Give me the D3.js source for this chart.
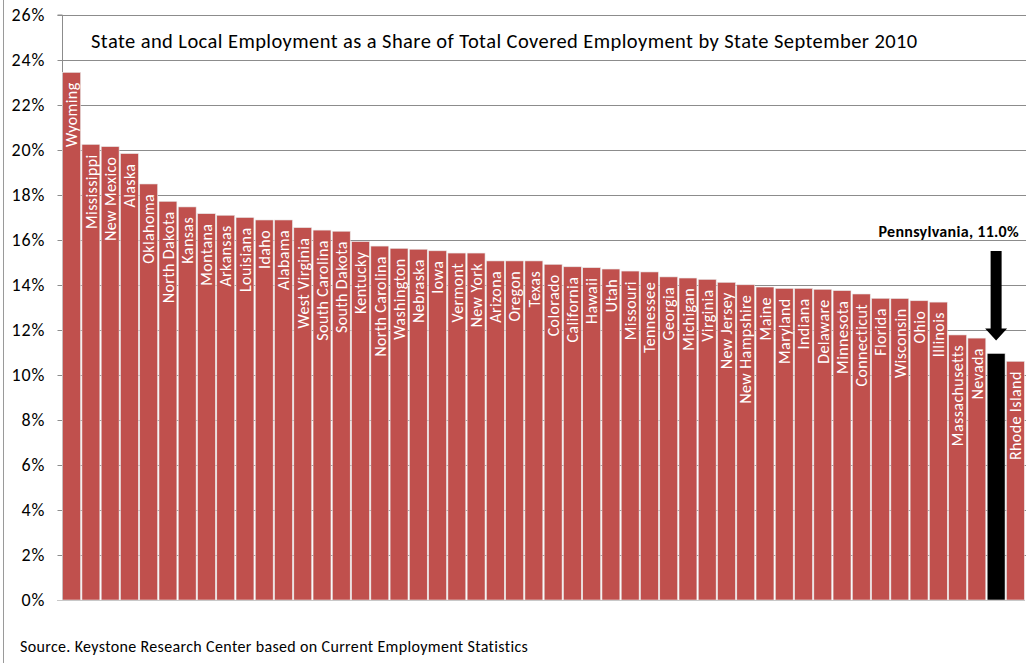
<!DOCTYPE html>
<html>
<head>
<meta charset="utf-8">
<script src="https://cdn.jsdelivr.net/npm/d3@7"></script>
<style>
  html, body { margin: 0; padding: 0; background: #fff; }
  svg { display: block; font-family: Carlito, Lato, "Open Sans", sans-serif; }
</style>
</head>
<body>
<svg id="chart" width="1028" height="663"></svg>
<script>
const states = ["Wyoming","Mississippi","New Mexico","Alaska","Oklahoma","North Dakota","Kansas","Montana","Arkansas","Louisiana","Idaho","Alabama","West Virginia","South Carolina","South Dakota","Kentucky","North Carolina","Washington","Nebraska","Iowa","Vermont","New York","Arizona","Oregon","Texas","Colorado","California","Hawaii","Utah","Missouri","Tennessee","Georgia","Michigan","Virginia","New Jersey","New Hampshire","Maine","Maryland","Indiana","Delaware","Minnesota","Connecticut","Florida","Wisconsin","Ohio","Illinois","Massachusetts","Nevada","Pennsylvania","Rhode Island"];
const shares = [23.45,20.25,20.15,19.84,18.49,17.72,17.47,17.17,17.10,17.00,16.89,16.89,16.55,16.44,16.39,15.93,15.73,15.63,15.59,15.52,15.42,15.42,15.07,15.07,15.07,14.92,14.81,14.77,14.71,14.62,14.58,14.36,14.31,14.25,14.12,14.01,13.91,13.85,13.85,13.81,13.75,13.60,13.41,13.40,13.30,13.24,11.78,11.64,10.96,10.61];
const yTicks = [0,2,4,6,8,10,12,14,16,18,20,22,24,26];
const highlight = "Pennsylvania";
const titleText = "State and Local Employment as a Share of Total Covered Employment by State September 2010";
const sourceText = "Source. Keystone Research Center based on Current Employment Statistics";
const annotationText = "Pennsylvania, 11.0%";

const svg = d3.select("#chart");
const W = 1028, H = 663;
const m = {left: 62, right: 1025, top: 15, bottom: 600};

// outer frame (left edge visible)
svg.append("line").attr("x1", 3.5).attr("x2", 3.5).attr("y1", 0).attr("y2", H)
  .attr("stroke", "#9a9a9a").attr("stroke-width", 1);

const x = d3.scaleBand().domain(states).range([m.left, m.right]).paddingInner(0.07).paddingOuter(0.035);
const y = d3.scaleLinear().domain([0, 26]).range([m.bottom, m.top]);

// gridlines
svg.append("g").selectAll("line").data(yTicks.filter(d => d > 0)).join("line")
  .attr("x1", m.left).attr("x2", 1026)
  .attr("y1", d => Math.round(y(d)) + 0.5).attr("y2", d => Math.round(y(d)) + 0.5)
  .attr("stroke", "#8c8c8c").attr("stroke-width", 1);

// y axis
const yAxis = d3.axisLeft(y).tickValues(yTicks).tickFormat(d => d + "%").tickSize(5).tickPadding(12);
const gy = svg.append("g").attr("transform", `translate(${m.left + 0.5},0)`).call(yAxis);
gy.select(".domain").attr("stroke", "#8c8c8c").attr("d", `M-5,${m.top}H0V${m.bottom}`);
gy.selectAll(".tick line").attr("stroke", "#8c8c8c");
gy.selectAll(".tick text").attr("font-size", 18).attr("letter-spacing", 1).attr("fill", "#000")
  .attr("font-family", "Carlito, Lato, sans-serif");

// bars
const data = states.map((s, i) => ({state: s, value: shares[i]}));
svg.append("g").selectAll("rect").data(data).join("rect")
  .attr("x", d => x(d.state)).attr("width", x.bandwidth())
  .attr("y", d => y(d.value)).attr("height", d => y(0) - y(d.value))
  .attr("fill", d => d.state === highlight ? "#000000" : "#C0504D")
  .attr("stroke", "#e8e8e8").attr("stroke-width", 0.6);

// x axis baseline
svg.append("line").attr("x1", m.left - 5).attr("x2", m.right)
  .attr("y1", m.bottom + 0.5).attr("y2", m.bottom + 0.5)
  .attr("stroke", "#c8c8c8").attr("stroke-width", 1.2);

// labels inside bars
svg.append("g").selectAll("text").data(data.filter(d => d.state !== highlight)).join("text")
  .attr("transform", d => `translate(${x(d.state) + x.bandwidth() / 2},${y(d.value) + 10}) rotate(-90)`)
  .attr("text-anchor", "end").attr("dy", "0.36em")
  .attr("fill", "#fff").attr("font-size", 16).attr("letter-spacing", 0.4)
  .text(d => d.state);

// title
svg.append("text").attr("x", 91).attr("y", 48).attr("font-size", 20.5).attr("letter-spacing", 0.42)
  .attr("fill", "#000").text(titleText);

// source
svg.append("text").attr("x", 20).attr("y", 652).attr("font-size", 16).attr("letter-spacing", 0.35)
  .attr("fill", "#000").text(sourceText);

// annotation + arrow
const pa = data.find(d => d.state === highlight);
const cx = x(pa.state) + x.bandwidth() / 2;
const tipY = y(pa.value) - 13;
const headH = 12, headW = 11, shaftW = 5.5, shaftTop = 251;
svg.append("path")
  .attr("d", `M${cx - shaftW},${shaftTop}H${cx + shaftW}V${tipY - headH}H${cx + headW}L${cx},${tipY}L${cx - headW},${tipY - headH}H${cx - shaftW}Z`)
  .attr("fill", "#000");
svg.append("text").attr("x", 1019).attr("y", 237).attr("text-anchor", "end")
  .attr("font-size", 16).attr("letter-spacing", 0.3).attr("font-weight", "bold").attr("fill", "#000")
  .text(annotationText);
</script>
</body>
</html>
